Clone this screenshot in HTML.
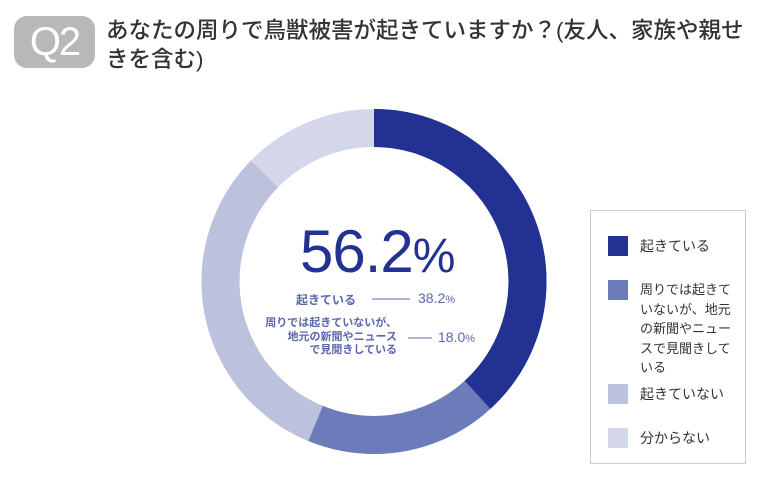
<!DOCTYPE html>
<html><head><meta charset="utf-8"><style>
body{margin:0;width:770px;height:500px;background:#fff;font-family:"Liberation Sans","Noto Sans CJK JP",sans-serif;position:relative;overflow:hidden}
.a{position:absolute;white-space:nowrap}
</style></head><body>
<div class="a" style="left:14px;top:16px;width:81px;height:52px;background:#b8b8b8;border-radius:13px;color:#fff;font-size:40px;line-height:52px;text-align:center;letter-spacing:-2px">Q2</div>
<div class="a" style="left:106px;top:16px;font-size:22.5px;line-height:29px;color:#333;font-weight:500">あなたの周りで鳥獣被害が起きていますか？(友人、家族や親せ<br>きを含む)</div>
<svg class="a" style="left:0;top:0" width="770" height="500">
<g transform="rotate(-90 374 281.5)" fill="none" stroke-width="38">
<circle cx="374" cy="281.5" r="153.5" stroke="#d4d7ea"/>
<circle cx="374" cy="281.5" r="153.5" stroke="#bcc1de" stroke-dasharray="842.2 2000"/>
<circle cx="374" cy="281.5" r="153.5" stroke="#6c7bba" stroke-dasharray="541.9 2000"/>
<circle cx="374" cy="281.5" r="153.5" stroke="#233192" stroke-dasharray="368.4 2000"/>
</g>
<line x1="372" y1="299" x2="410" y2="299" stroke="#5b66ad" stroke-width="1"/>
<line x1="408" y1="338" x2="432" y2="338" stroke="#5b66ad" stroke-width="1"/>
<rect x="590.5" y="210.5" width="155" height="253" fill="none" stroke="#ccc"/>
<rect x="608" y="236" width="20" height="20" fill="#233192"/>
<rect x="608" y="280" width="20" height="20" fill="#6c7bba"/>
<rect x="608" y="384" width="20" height="20" fill="#bcc1de"/>
<rect x="608" y="428" width="20" height="20" fill="#d4d7ea"/>
</svg>
<div class="a" style="left:300px;top:220px;font-size:60px;line-height:64px;color:#233192;letter-spacing:-1px">56.2<span style="font-size:48px">%</span></div>
<div class="a" style="left:296px;top:291px;font-size:12px;font-weight:bold;color:#5b66ad">起きている</div>
<div class="a" style="left:418px;top:290px;font-size:14px;color:#5b66ad">38.2<span style="font-size:11px">%</span></div>
<div class="a" style="left:247px;width:150px;top:317px;font-size:11px;line-height:13.5px;font-weight:bold;color:#5b66ad;text-align:right">周りでは起きていないが、<br>地元の新聞やニュース<br>で見聞きしている</div>
<div class="a" style="left:438px;top:329px;font-size:14px;color:#5b66ad">18.0<span style="font-size:11px">%</span></div>
<div class="a" style="left:640px;top:236px;font-size:14px;line-height:20px;color:#333">起きている</div>
<div class="a" style="left:640px;top:280px;font-size:13px;line-height:19.5px;color:#333">周りでは起きて<br>いないが、地元<br>の新聞やニュー<br>スで見聞きして<br>いる</div>
<div class="a" style="left:640px;top:384px;font-size:14px;line-height:20px;color:#333">起きていない</div>
<div class="a" style="left:640px;top:428px;font-size:14px;line-height:20px;color:#333">分からない</div>
</body></html>
